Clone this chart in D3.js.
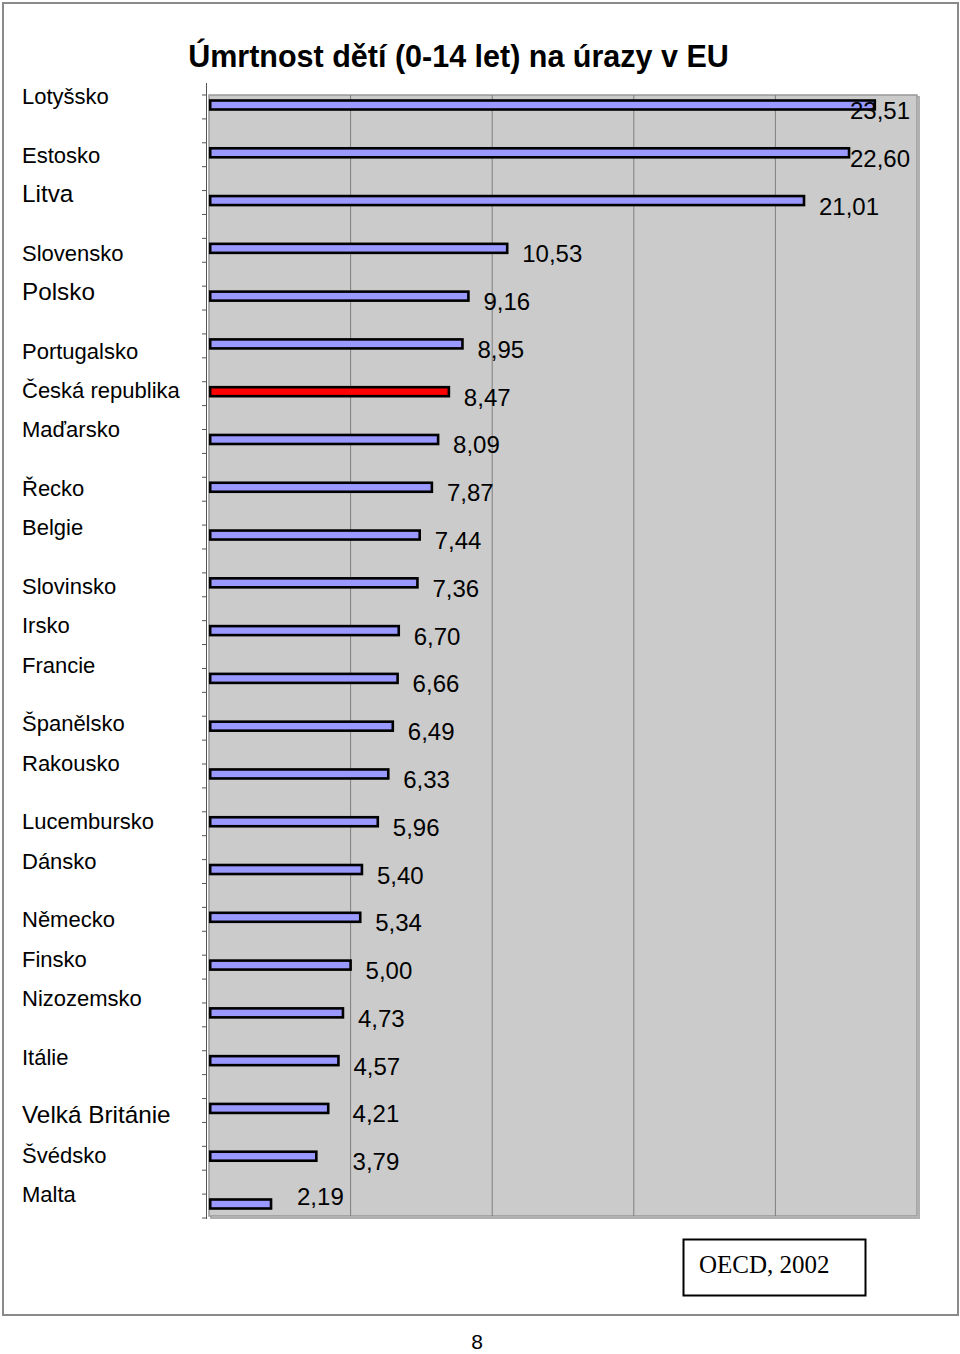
<!DOCTYPE html>
<html>
<head>
<meta charset="utf-8">
<script src="https://cdn.jsdelivr.net/npm/d3@7"></script>
<style>
html,body{margin:0;padding:0;background:#fff;}
svg{display:block;}
</style>
</head>
<body>
<svg id="chart" width="960" height="1354"></svg>
<script>
// ---- data ----
const categories = ["Lotyšsko","Estosko","Litva","Slovensko","Polsko","Portugalsko","Česká republika","Maďarsko","Řecko","Belgie","Slovinsko","Irsko","Francie","Španělsko","Rakousko","Lucembursko","Dánsko","Německo","Finsko","Nizozemsko","Itálie","Velká Británie","Švédsko","Malta"];
const values = [23.51,22.60,21.01,10.53,9.16,8.95,8.47,8.09,7.87,7.44,7.36,6.70,6.66,6.49,6.33,5.96,5.40,5.34,5.00,4.73,4.57,4.21,3.79,2.19];
const labelGroups = [1,2,2,3,2,3,2,2,3,1,3];
const highlighted = ["Česká republika"];
const title = "Úmrtnost dětí (0-14 let) na úrazy v EU";
const source = "OECD, 2002";
const pageNumber = "8";

// ---- render ----
const svg = d3.select("#chart");
const sans = "Arial, 'Liberation Sans', Helvetica, sans-serif";
const serif = "'Times New Roman', 'Liberation Serif', serif";
const largeLabels = new Set(["Litva","Polsko","Velká Británie"]);

// page frame
svg.append("rect").attr("x",3).attr("y",3).attr("width",955).attr("height",1312)
  .attr("fill","none").attr("stroke","#8a8a8a").attr("stroke-width",2);

const plot = {left:209, right:917, top:95, bottom:1216};
const x = d3.scaleLinear().domain([0,25]).range([plot.left, plot.right]);
const y = d3.scalePoint().domain(categories).range([105, 1204]);

// plot background with shadowed border
svg.append("rect").attr("x",plot.left+2).attr("y",plot.top+2)
  .attr("width",plot.right-plot.left).attr("height",plot.bottom-plot.top)
  .attr("fill","none").attr("stroke","#b0b0b0").attr("stroke-width",2);
svg.append("rect").attr("x",plot.left).attr("y",plot.top)
  .attr("width",plot.right-plot.left).attr("height",plot.bottom-plot.top)
  .attr("fill","#cbcbcb").attr("stroke","#999").attr("stroke-width",1.5);

// gridlines
svg.append("g").selectAll("line").data([5,10,15,20]).join("line")
  .attr("x1",d=>x(d)).attr("x2",d=>x(d))
  .attr("y1",plot.top).attr("y2",plot.bottom)
  .attr("stroke","#7f7f7f").attr("stroke-width",1);

// category axis line + ticks
svg.append("line").attr("x1",206.5).attr("x2",206.5).attr("y1",83).attr("y2",plot.bottom+3)
  .attr("stroke","#555").attr("stroke-width",1);
const tickScale = d3.scaleLinear().domain([0,47]).range([plot.top, plot.bottom+2]);
svg.append("g").selectAll("line").data(d3.range(48)).join("line")
  .attr("x1",202).attr("x2",207)
  .attr("y1",d=>tickScale(d)).attr("y2",d=>tickScale(d))
  .attr("stroke","#555").attr("stroke-width",1);

// bars
const barH = 9;
svg.append("g").selectAll("rect").data(categories).join("rect")
  .attr("x",x(0)+1.2)
  .attr("y",d=>y(d)-barH/2)
  .attr("width",(d,i)=>x(values[i])-x(0)-1.2)
  .attr("height",barH)
  .attr("fill",d=>highlighted.includes(d)?"#ff0000":"#9999ff")
  .attr("stroke","#000").attr("stroke-width",2.6);

// value labels
const fmt = v => d3.format(".2f")(v).replace(".",",");
svg.append("g").selectAll("text").data(categories).join("text")
  .attr("font-family",sans).attr("font-size",24).attr("fill","#000")
  .text((d,i)=>fmt(values[i]))
  .each(function(d,i){
    const w = this.getComputedTextLength();
    const v = values[i];
    let xx = x(v)+15, yy = y(d)+14;
    const gap = x(5) - xx;
    if (gap > 0 && gap < 40) xx = x(5)+2;      // nudge next to the 5 gridline
    else if (gap >= 40) { xx = x(v)+26; yy = y(d)+1; } // short bar: label beside/above
    xx = Math.min(xx, 910-w);
    d3.select(this).attr("x",xx).attr("y",yy);
  });

// category labels (text column with grouped lines)
let cy = 104;
const labelY = [];
labelGroups.forEach(n=>{
  for(let j=0;j<n;j++){
    labelY.push(cy);
    cy += (j===n-1) ? 58.7 : 39.3;
  }
});
svg.append("g").selectAll("text").data(categories).join("text")
  .attr("x",22).attr("y",(d,i)=>labelY[i])
  .attr("font-family",sans)
  .attr("font-size",d=>largeLabels.has(d)?24.3:22)
  .attr("fill","#000").text(d=>d);

// title
svg.append("text").attr("x",458.5).attr("y",67).attr("text-anchor","middle")
  .attr("font-family",sans).attr("font-weight","bold").attr("font-size",30.5)
  .text(title);

// source box
svg.append("rect").attr("x",683.5).attr("y",1239.5).attr("width",182).attr("height",56)
  .attr("fill","#fff").attr("stroke","#000").attr("stroke-width",2);
svg.append("text").attr("x",699).attr("y",1273).attr("font-family",serif).attr("font-size",25)
  .text(source);

// page number
svg.append("text").attr("x",477).attr("y",1349).attr("text-anchor","middle")
  .attr("font-family",sans).attr("font-size",21).text(pageNumber);
</script>
</body>
</html>
